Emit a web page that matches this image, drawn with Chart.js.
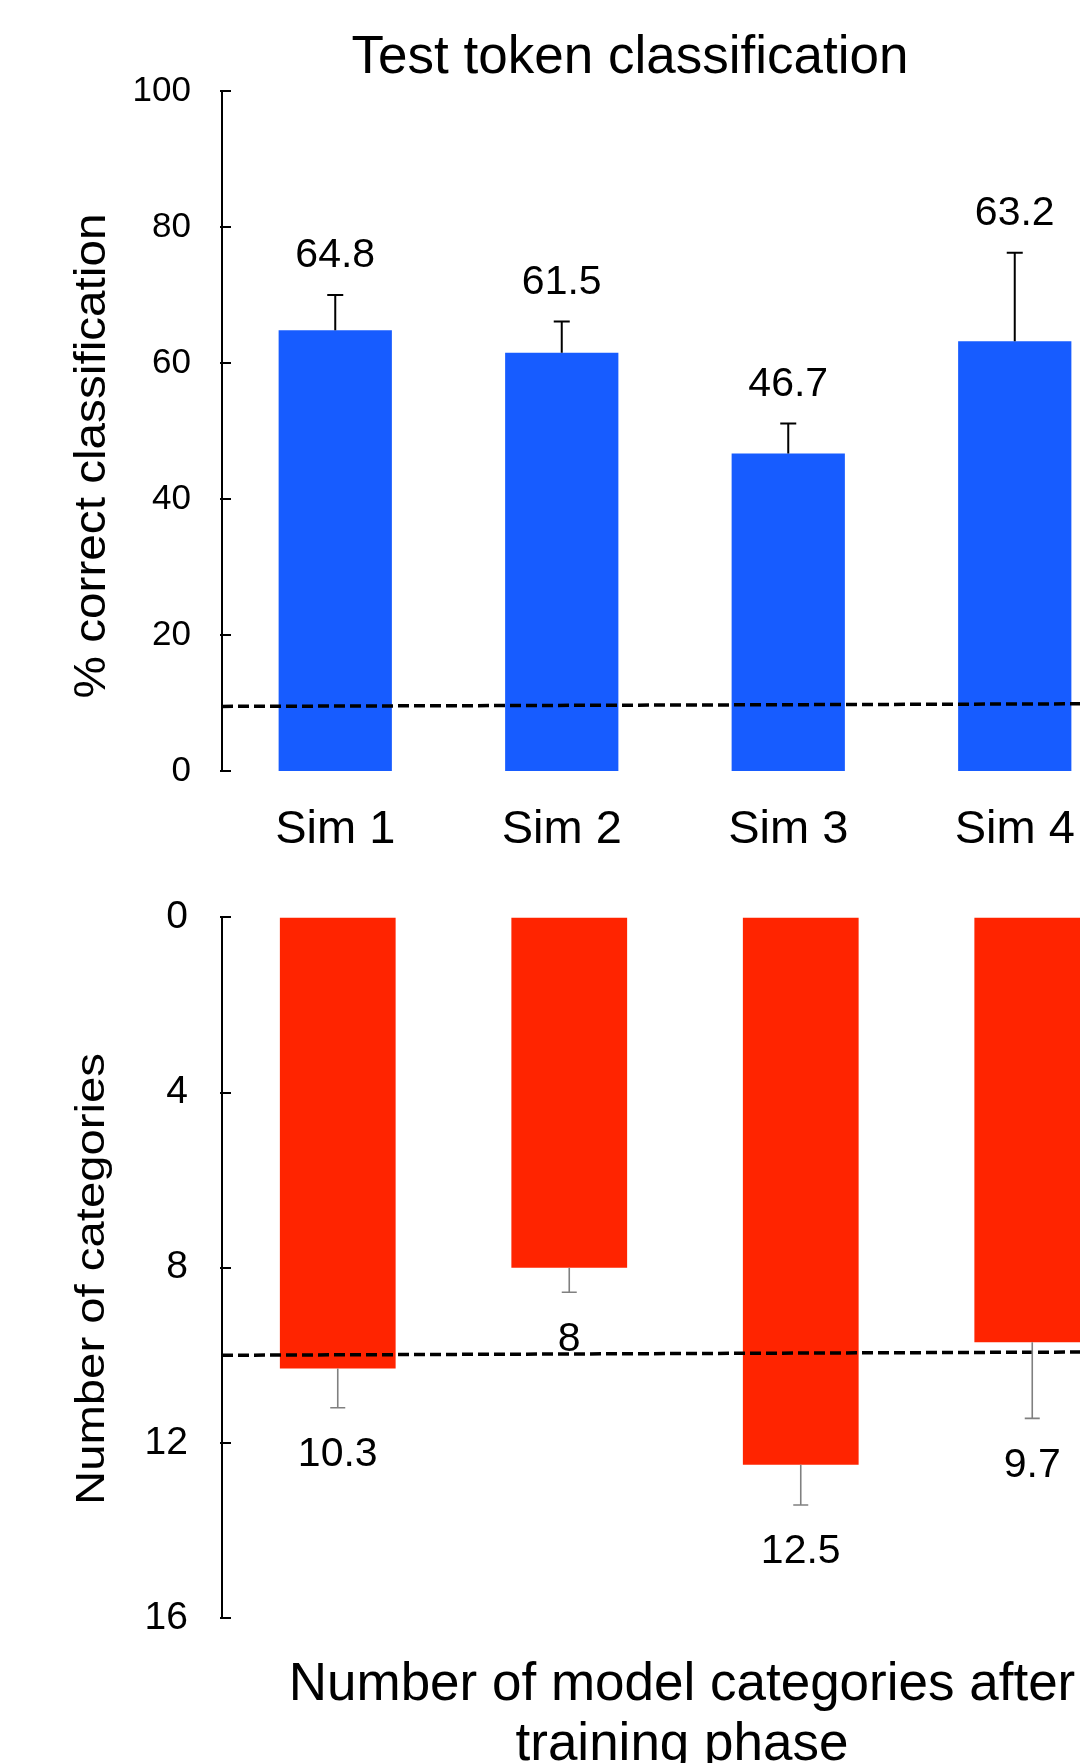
<!DOCTYPE html>
<html>
<head>
<meta charset="utf-8">
<script src="https://cdn.jsdelivr.net/npm/chart.js@4.4.1/dist/chart.umd.min.js"></script>
<style>
  html, body { margin: 0; padding: 0; background: #fff; width: 1080px; height: 1763px; overflow: hidden; }
  #wrap { position: relative; width: 1080px; height: 1763px; overflow: hidden; }
  canvas { position: absolute; left: 0; }
  #c1 { top: 0; }
  #c2 { top: 860px; }
</style>
</head>
<body>
<div id="wrap">
  <canvas id="c1" width="1128" height="860"></canvas>
  <canvas id="c2" width="1148" height="903"></canvas>
</div>
<script>
// ---------- data ----------
const categories = ['Sim 1', 'Sim 2', 'Sim 3', 'Sim 4'];
const accuracy = [64.8, 61.5, 46.7, 63.2];
const accuracyErr = [5.2, 4.6, 4.4, 13.0];
const accuracyTicks = [0, 20, 40, 60, 80, 100];
const chanceAccuracy = [9.5, 9.9];
const modelCategories = [10.3, 8, 12.5, 9.7];
const modelCategoriesErr = [0.9, 0.56, 0.92, 1.74];
const categoryTicks = [0, 4, 8, 12, 16];
const trueCategories = [10.0, 9.92];

const topTitle = 'Test token classification';
const topYTitle = '% correct classification';
const bottomYTitle = 'Number of categories';
const bottomXTitle = ['Number of model categories after', 'training phase'];

// ---------- styling ----------
const FONT = '"Liberation Sans", Arial, Helvetica, sans-serif';
const BLUE = '#175cff';
const RED = '#ff2400';

function inwardTicks(ticks) {
  return {
    id: 'inwardTicks',
    afterDraw(chart) {
      const s = chart.scales.y, ctx = chart.ctx;
      ctx.save();
      ctx.strokeStyle = '#000';
      ctx.lineWidth = 2;
      ticks.forEach(v => {
        const y = Math.round(s.getPixelForValue(v));
        ctx.beginPath();
        ctx.moveTo(s.right - 2, y);
        ctx.lineTo(s.right + 9, y);
        ctx.stroke();
      });
      ctx.restore();
    }
  };
}

function dashedLine(vals) {
  return {
    id: 'dashedLine',
    afterDatasetsDraw(chart) {
      const s = chart.scales.y, ctx = chart.ctx, a = chart.chartArea;
      ctx.save();
      ctx.strokeStyle = '#000';
      ctx.lineWidth = 3.5;
      ctx.setLineDash([11, 5]);
      ctx.beginPath();
      ctx.moveTo(a.left, s.getPixelForValue(vals[0]));
      ctx.lineTo(a.right, s.getPixelForValue(vals[1]));
      ctx.stroke();
      ctx.restore();
    }
  };
}

function errorBars(vals, errs, color, lw, cap, labelGap, labelFont) {
  return {
    id: 'errorBars',
    afterDatasetsDraw(chart) {
      const s = chart.scales.y, ctx = chart.ctx;
      const meta = chart.getDatasetMeta(0);
      ctx.save();
      meta.data.forEach((bar, i) => {
        const x = bar.x;
        const y0 = s.getPixelForValue(vals[i]);
        const y1 = s.getPixelForValue(vals[i] + errs[i]);
        ctx.strokeStyle = color;
        ctx.lineWidth = lw;
        ctx.setLineDash([]);
        ctx.beginPath();
        ctx.moveTo(x, y0);
        ctx.lineTo(x, y1);
        ctx.moveTo(x - cap / 2, y1);
        ctx.lineTo(x + cap / 2, y1);
        ctx.stroke();
        const dir = y1 < y0 ? -1 : 1;
        ctx.fillStyle = '#000';
        ctx.font = labelFont;
        ctx.textAlign = 'center';
        ctx.textBaseline = 'middle';
        ctx.fillText(String(vals[i]), x, y1 + dir * labelGap);
      });
      ctx.restore();
    }
  };
}

function rotatedTitle(text, baselineX, centerY, size, length) {
  return {
    id: 'rotTitle',
    afterDraw(chart) {
      const ctx = chart.ctx;
      ctx.save();
      ctx.font = size + 'px ' + FONT;
      const w = ctx.measureText(text).width;
      const k = length / w;
      ctx.translate(baselineX, centerY);
      ctx.rotate(-Math.PI / 2);
      ctx.scale(k, 1);
      ctx.fillStyle = '#000';
      ctx.textAlign = 'center';
      ctx.textBaseline = 'alphabetic';
      ctx.fillText(text, 0, 0);
      ctx.restore();
    }
  };
}

function textLines(lines, cx, firstBaseline, lineGap, size) {
  return {
    id: 'textLines',
    afterDraw(chart) {
      const ctx = chart.ctx;
      ctx.save();
      ctx.font = size + 'px ' + FONT;
      ctx.fillStyle = '#000';
      ctx.textAlign = 'center';
      ctx.textBaseline = 'alphabetic';
      lines.forEach((t, i) => ctx.fillText(t, cx, firstBaseline + i * lineGap));
      ctx.restore();
    }
  };
}

// ---------- top chart ----------
new Chart(document.getElementById('c1'), {
  type: 'bar',
  data: {
    labels: categories,
    datasets: [{
      data: accuracy,
      backgroundColor: BLUE,
      borderWidth: 0,
      barPercentage: 0.5,
      categoryPercentage: 1.0
    }]
  },
  options: {
    responsive: false,
    animation: false,
    devicePixelRatio: 1,
    layout: { padding: { top: 91, left: 0, right: 0, bottom: 0 } },
    plugins: { legend: { display: false }, tooltip: { enabled: false }, title: { display: false } },
    scales: {
      x: {
        type: 'category',
        grid: { display: false, drawTicks: false },
        border: { display: false },
        ticks: { color: '#000', font: { family: FONT, size: 47 }, padding: 31, maxRotation: 0 },
        afterFit(s) { s.height = 89; }
      },
      y: {
        min: accuracyTicks[0],
        max: accuracyTicks[accuracyTicks.length - 1],
        afterBuildTicks(s) { s.ticks = accuracyTicks.map(v => ({ value: v })); },
        grid: { display: false, drawTicks: false },
        border: { display: true, color: '#000', width: 2 },
        ticks: { color: '#000', font: { family: FONT, size: 35 }, padding: 31 },
        afterFit(s) { s.width = 222; }
      }
    }
  },
  plugins: [
    inwardTicks(accuracyTicks),
    dashedLine(chanceAccuracy),
    errorBars(accuracy, accuracyErr, '#000', 2, 16, 39, '41px ' + FONT),
    rotatedTitle(topYTitle, 105, 456, 45, 485),
    textLines([topTitle], 630, 73, 0, 53)
  ]
});

// ---------- bottom chart ----------
new Chart(document.getElementById('c2'), {
  type: 'bar',
  data: {
    labels: categories,
    datasets: [{
      data: modelCategories,
      backgroundColor: RED,
      borderWidth: 0,
      barPercentage: 0.5,
      categoryPercentage: 1.0
    }]
  },
  options: {
    responsive: false,
    animation: false,
    devicePixelRatio: 1,
    layout: { padding: { top: 56, left: 0, right: 0, bottom: 145 } },
    plugins: { legend: { display: false }, tooltip: { enabled: false }, title: { display: false } },
    scales: {
      x: {
        type: 'category',
        display: false
      },
      y: {
        reverse: true,
        min: categoryTicks[0],
        max: categoryTicks[categoryTicks.length - 1],
        afterBuildTicks(s) { s.ticks = categoryTicks.map(v => ({ value: v })); },
        grid: { display: false, drawTicks: false },
        border: { display: true, color: '#000', width: 2 },
        ticks: { color: '#000', font: { family: FONT, size: 39 }, padding: 34 },
        afterFit(s) { s.width = 222; }
      }
    }
  },
  plugins: [
    inwardTicks(categoryTicks),
    dashedLine(trueCategories),
    errorBars(modelCategories, modelCategoriesErr, '#808080', 1.6, 15, 47, '41px ' + FONT),
    rotatedTitle(bottomYTitle, 104, 419, 40, 452),
    textLines(bottomXTitle, 682, 840, 60, 53)
  ]
});
</script>
</body>
</html>
